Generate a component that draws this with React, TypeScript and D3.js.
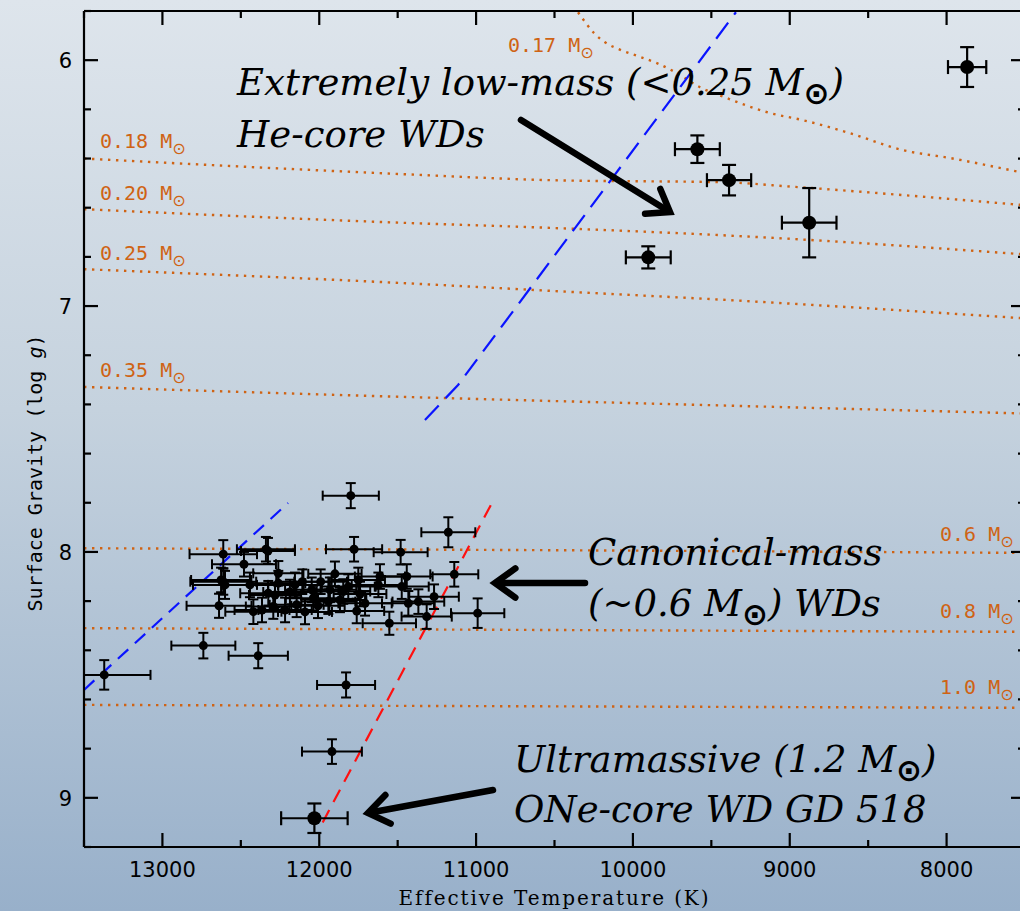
import React from 'react';
import * as d3 from 'd3';

const W = 1020;
const H = 911;
const X0 = 84, X1 = 1025, Y0 = 11, Y1 = 847;

const teffDomain = [13500, 7500];
const loggDomain = [5.8, 9.2];
const xMajorTicks = [13000, 12000, 11000, 10000, 9000, 8000];
const yMajorTicks = [6, 7, 8, 9];

// Extremely low-mass WDs
const elmTeff = [7869, 9589, 9387, 8876, 9902];
const elmLogg = [6.028, 6.362, 6.488, 6.661, 6.802];
const elmTeffErr = [122, 143, 141, 174, 143];
const elmLoggErr = [0.081, 0.056, 0.062, 0.141, 0.045];

// Canonical-mass WDs
const canTeff = [12612, 12340, 12327, 11778, 11481, 11799, 11177, 12480, 12261, 12612, 12601, 12626, 12442, 12261, 12108, 12325, 12282, 12639, 12420, 12293, 12218, 12144, 12048, 12038, 11991, 11900, 11847, 11815, 11751, 11942, 11868, 11708, 11761, 11613, 11623, 11442, 11474, 11432, 11368, 11553, 11315, 11268, 11139, 10990, 12739, 12389, 13371, 11829, 11919, 12187, 12091, 11932, 12365, 12008, 11740, 12155];
const canLogg = [8.009, 7.989, 7.996, 7.989, 8.001, 7.771, 7.92, 8.05, 8.087, 8.121, 8.134, 8.114, 8.134, 8.127, 8.121, 8.168, 8.175, 8.219, 8.243, 8.222, 8.236, 8.215, 8.154, 8.188, 8.121, 8.089, 8.161, 8.141, 8.114, 8.202, 8.195, 8.209, 8.24, 8.1, 8.134, 8.1, 8.141, 8.209, 8.202, 8.29, 8.263, 8.182, 8.091, 8.249, 8.381, 8.422, 8.5, 8.541, 8.812, 8.163, 8.244, 8.154, 8.236, 8.219, 8.171, 8.134];
const canTeffErr = [215, 185, 172, 179, 172, 179, 172, 204, 160, 210, 204, 191, 179, 172, 166, 179, 166, 207, 179, 175, 170, 172, 170, 175, 168, 170, 172, 175, 170, 172, 168, 170, 175, 160, 170, 165, 172, 168, 165, 170, 160, 158, 153, 170, 204, 189, 295, 185, 191, 170, 172, 168, 175, 170, 168, 172];
const canLoggErr = [0.057, 0.05, 0.053, 0.05, 0.05, 0.051, 0.061, 0.05, 0.05, 0.053, 0.057, 0.05, 0.05, 0.05, 0.05, 0.05, 0.05, 0.049, 0.05, 0.05, 0.05, 0.05, 0.05, 0.05, 0.05, 0.05, 0.05, 0.05, 0.05, 0.05, 0.05, 0.05, 0.05, 0.05, 0.05, 0.05, 0.05, 0.05, 0.05, 0.047, 0.05, 0.05, 0.05, 0.06, 0.052, 0.051, 0.06, 0.051, 0.05, 0.05, 0.05, 0.05, 0.05, 0.05, 0.05, 0.05];

// Ultramassive GD 518
const umTeff = [12031];
const umLogg = [9.083];
const umTeffErr = [212];
const umLoggErr = [0.06];

// Cooling tracks (mass labels + sampled Teff/logg)
const trackLabels = ['0.17', '0.18', '0.20', '0.25', '0.35', '0.6', '0.8', '1.0'];
const track017T = [10350, 10299, 10248, 10178, 10076, 9948, 9847, 9719, 9572, 9419, 9126, 8916, 8616, 8278, 7978, 7500];
const track017G = [5.805, 5.85, 5.89, 5.927, 5.959, 5.988, 6.012, 6.053, 6.11, 6.15, 6.215, 6.244, 6.297, 6.366, 6.398, 6.46];
const track018T = [13500, 11485, 10529, 9394, 9041, 7500];
const track018G = [6.4, 6.463, 6.488, 6.497, 6.512, 6.59];
const track020T = [13500, 11485, 10529, 9041, 7500];
const track020G = [6.606, 6.661, 6.682, 6.725, 6.79];
const track025T = [13500, 11485, 10529, 9381, 7500];
const track025G = [6.85, 6.906, 6.938, 6.976, 7.05];
const track035T = [13500, 11485, 9572, 7500];
const track035G = [7.329, 7.369, 7.402, 7.437];
const track06T = [13500, 10500, 7500];
const track06G = [7.985, 7.993, 8.004];
const track08T = [13500, 7500];
const track08G = [8.31, 8.325];
const track10T = [13500, 7500];
const track10G = [8.622, 8.634];

// Instability strip edges
const blueLowT = [13500, 12199];
const blueLowG = [8.561, 7.801];
const blueHighT = [11326, 11115, 9343];
const blueHighG = [7.463, 7.321, 5.805];
const redT = [11978, 10900];
const redG = [9.1, 7.802];

const ORANGE = '#cf6314';

export default function App() {
  const x = d3.scaleLinear().domain(teffDomain).range([X0, X1]);
  const y = d3.scaleLinear().domain(loggDomain).range([Y0, Y1]);

  const zip = (T: number[], G: number[]) => T.map((t, i) => [t, G[i]] as [number, number]);
  const line = d3.line<[number, number]>().x(d => x(d[0])).y(d => y(d[1])).curve(d3.curveMonotoneX);
  const straight = d3.line<[number, number]>().x(d => x(d[0])).y(d => y(d[1]));

  const tracks = [
    zip(track017T, track017G), zip(track018T, track018G), zip(track020T, track020G),
    zip(track025T, track025G), zip(track035T, track035G), zip(track06T, track06G),
    zip(track08T, track08G), zip(track10T, track10G),
  ];

  const xMinor = d3.range(13500, 7499, -500);
  const yMinor = d3.range(5.8, 9.2001, 0.2);

  const points = (T: number[], G: number[], TE: number[], GE: number[], r: number, cap: number, sw: number, key: string) =>
    T.map((t, i) => {
      const cx = x(t), cy = y(G[i]);
      const xl = x(t + TE[i]), xr = x(t - TE[i]);
      const yt = y(G[i] - GE[i]), yb = y(G[i] + GE[i]);
      return (
        <g key={key + i} stroke="#000" strokeWidth={sw}>
          <line x1={xl} x2={xr} y1={cy} y2={cy} />
          <line x1={xl} x2={xl} y1={cy - cap} y2={cy + cap} />
          <line x1={xr} x2={xr} y1={cy - cap} y2={cy + cap} />
          <line x1={cx} x2={cx} y1={yt} y2={yb} />
          <line x1={cx - cap} x2={cx + cap} y1={yt} y2={yt} />
          <line x1={cx - cap} x2={cx + cap} y1={yb} y2={yb} />
          <circle cx={cx} cy={cy} r={r} fill="#000" stroke="none" />
        </g>
      );
    });

  const arrow = (x1: number, y1: number, x2: number, y2: number, key: string) => {
    const a = Math.atan2(y2 - y1, x2 - x1);
    const L = 25, sp = 0.62;
    const p1 = [x2 - L * Math.cos(a - sp), y2 - L * Math.sin(a - sp)];
    const p2 = [x2 - L * Math.cos(a + sp), y2 - L * Math.sin(a + sp)];
    return (
      <g key={key} stroke="#000" strokeWidth={6.5} fill="none" strokeLinejoin="miter" strokeLinecap="round">
        <line x1={x1} y1={y1} x2={x2 - 4 * Math.cos(a)} y2={y2 - 4 * Math.sin(a)} />
        <polyline points={`${p1[0]},${p1[1]} ${x2},${y2} ${p2[0]},${p2[1]}`} />
      </g>
    );
  };

  const massLabel = (m: string, lx: number, ly: number) => (
    <text key={m} x={lx} y={ly} fill={ORANGE} fontFamily="'DejaVu Sans Mono', monospace" fontSize={20}>
      {m} M<tspan fontFamily="'DejaVu Sans', sans-serif" fontSize={16} dy={6}>⊙</tspan>
    </text>
  );

  const annFont = "'DejaVu Serif', serif";
  const sun = (dy: number) => (
    <tspan fontFamily="'DejaVu Sans', sans-serif" fontStyle="normal" fontWeight="bold" fontSize={31} dy={dy}>⊙</tspan>
  );

  return (
    <svg width={W} height={H} style={{ position: 'absolute', left: 0, top: 0, display: 'block' }}>
      <defs>
        <linearGradient id="bg" x1="0" y1="0" x2="0" y2="1">
          <stop offset="0" stopColor="#dee5ec" />
          <stop offset="0.45" stopColor="#c5d2de" />
          <stop offset="1" stopColor="#98b0ca" />
        </linearGradient>
        <clipPath id="plot">
          <rect x={X0} y={Y0} width={X1 - X0} height={Y1 - Y0} />
        </clipPath>
      </defs>
      <rect x={0} y={0} width={W} height={H} fill="url(#bg)" />

      <g clipPath="url(#plot)">
        {tracks.map((t, i) => (
          <path key={'tr' + i} d={line(t) || ''} fill="none" stroke={ORANGE} strokeWidth={2.4} strokeDasharray="2.4,5.6" />
        ))}
        <path d={straight(zip(blueLowT, blueLowG)) || ''} fill="none" stroke="#0a14ff" strokeWidth={2.2} strokeDasharray="14,9" />
        <path d={straight(zip(blueHighT, blueHighG)) || ''} fill="none" stroke="#0a14ff" strokeWidth={2.2} strokeDasharray="20,10" />
        <path d={straight(zip(redT, redG)) || ''} fill="none" stroke="#ff1010" strokeWidth={2.2} strokeDasharray="14,9" />

        {points(canTeff, canLogg, canTeffErr, canLoggErr, 4.5, 5, 2, 'c')}
        {points(elmTeff, elmLogg, elmTeffErr, elmLoggErr, 7, 7, 2.2, 'e')}
        {points(umTeff, umLogg, umTeffErr, umLoggErr, 7, 7, 2.2, 'u')}
      </g>

      {/* axes frame */}
      <g stroke="#000" strokeWidth={2.2} fill="none">
        <line x1={X0} x2={X0} y1={Y0} y2={Y1} />
        <line x1={X0} x2={X1} y1={Y1} y2={Y1} />
        <line x1={X0} x2={X1} y1={Y0} y2={Y0} />
        <line x1={X1} x2={X1} y1={Y0} y2={Y1} />
        {xMinor.map(t => {
          const major = xMajorTicks.includes(t);
          const len = major ? 14 : 7;
          return (
            <g key={'xt' + t}>
              <line x1={x(t)} x2={x(t)} y1={Y1} y2={Y1 - len} />
              <line x1={x(t)} x2={x(t)} y1={Y0} y2={Y0 + len} />
            </g>
          );
        })}
        {yMinor.map(g => {
          const major = yMajorTicks.some(m => Math.abs(m - g) < 1e-6);
          const len = major ? 14 : 7;
          return (
            <g key={'yt' + g.toFixed(1)}>
              <line x1={X0} x2={X0 + len} y1={y(g)} y2={y(g)} />
              <line x1={X1} x2={X1 - len} y1={y(g)} y2={y(g)} />
            </g>
          );
        })}
      </g>

      {/* tick labels */}
      <g fontFamily="'DejaVu Sans', sans-serif" fontSize={21} fill="#000">
        {xMajorTicks.map(t => (
          <text key={'xl' + t} x={x(t)} y={877} textAnchor="middle">{t}</text>
        ))}
        {yMajorTicks.map(g => (
          <text key={'yl' + g} x={72} y={y(g) + 8} textAnchor="end">{g}</text>
        ))}
      </g>

      <text x={(X0 + X1) / 2} y={905} textAnchor="middle" fontFamily="'DejaVu Serif', serif" fontSize={20} letterSpacing={1.9} fill="#000">
        Effective Temperature (K)
      </text>
      <text transform="translate(42,473) rotate(-90)" textAnchor="middle" fontFamily="'DejaVu Sans Mono', monospace" fontSize={20} fill="#000">
        Surface Gravity (log <tspan fontStyle="italic">g</tspan>)
      </text>

      {/* mass labels */}
      {massLabel(trackLabels[0], 508, 52)}
      {massLabel(trackLabels[1], 100, 148)}
      {massLabel(trackLabels[2], 100, 200)}
      {massLabel(trackLabels[3], 100, 260)}
      {massLabel(trackLabels[4], 100, 377)}
      {massLabel(trackLabels[5], 940, 541)}
      {massLabel(trackLabels[6], 940, 618)}
      {massLabel(trackLabels[7], 940, 694)}

      {/* annotations */}
      <g fontFamily={annFont} fontStyle="italic" fontSize={37} fill="#000">
        <text x={237} y={95}>Extremely low-mass (&lt;0.25 M{sun(9)}<tspan dy={-9}>)</tspan></text>
        <text x={237} y={147}>He-core WDs</text>
        <text x={588} y={565}>Canonical-mass</text>
        <text x={588} y={616}>(~0.6 M{sun(9)}<tspan dy={-9}>) WDs</tspan></text>
        <text x={514} y={772}>Ultramassive (1.2 M{sun(9)}<tspan dy={-9}>)</tspan></text>
        <text x={514} y={822}>ONe-core WD GD 518</text>
      </g>

      {arrow(521, 120, 670, 212, 'a1')}
      {arrow(585, 583, 495, 583, 'a2')}
      {arrow(493, 790, 368, 813, 'a3')}
    </svg>
  );
}
